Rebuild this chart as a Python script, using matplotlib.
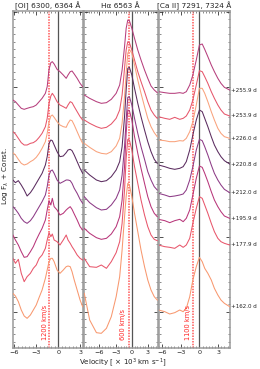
import matplotlib
matplotlib.use("Agg")
import matplotlib.pyplot as plt
from matplotlib.ticker import MultipleLocator

# ---- data ----
epochs = ["+255.9 d", "+253.9 d", "+226.0 d", "+220.8 d", "+212.0 d", "+195.9 d", "+177.9 d", "+162.0 d"]
colors = ["#b63f7d", "#e6566b", "#f9a27c", "#5b2c5f", "#8d3b86", "#b8367a", "#e8566b", "#f8986f"]

panel_titles = ["[OI] 6300, 6364 Å", "Hα 6563 Å", "[Ca II] 7291, 7324 Å"]
red_lines = [-1.2, -0.6, -1.1]
red_labels = ["1200 km/s", "600 km/s", "1100 km/s"]

v_oi = [-6.2, -5.85, -5.45, -5.05, -4.65, -4.25, -3.8, -3.4, -3.0, -2.6, -2.2, -1.75, -1.5, -1.25,
        -1.0, -0.8, -0.55, -0.15, 0.25, 0.7, 1.1, 1.35, 1.65, 1.9, 2.2, 2.6, 3.0, 3.35]
f_oi = [
    [7.44, 7.39, 7.29, 7.19, 7.16, 7.19, 7.22, 7.24, 7.29, 7.39, 7.49, 7.64, 7.84, 8.36, 8.56, 8.59, 8.52, 8.36, 8.29, 8.19, 8.09, 8.19, 8.29, 8.31, 8.22, 8.09, 7.94, 7.84],
    [6.49, 6.42, 6.29, 6.16, 6.09, 6.09, 6.14, 6.16, 6.22, 6.32, 6.44, 6.64, 6.89, 7.34, 7.56, 7.64, 7.56, 7.39, 7.29, 7.24, 7.19, 7.29, 7.39, 7.36, 7.24, 7.09, 6.94, 6.84],
    [5.86, 5.79, 5.66, 5.54, 5.49, 5.52, 5.59, 5.64, 5.72, 5.84, 5.99, 6.19, 6.44, 6.79, 6.96, 6.99, 6.92, 6.79, 6.69, 6.64, 6.62, 6.74, 6.84, 6.82, 6.69, 6.49, 6.29, 6.14],
    [5.04, 4.96, 5.02, 4.89, 4.74, 4.56, 4.66, 4.79, 4.94, 5.09, 5.24, 5.49, 5.74, 6.14, 6.24, 6.22, 6.09, 5.89, 5.74, 5.76, 5.86, 5.94, 5.96, 5.92, 5.79, 5.59, 5.39, 5.24],
    [4.24, 4.16, 4.04, 3.89, 3.79, 3.74, 3.82, 3.94, 4.09, 4.24, 4.39, 4.59, 4.84, 5.19, 5.32, 5.34, 5.24, 5.04, 4.94, 4.99, 5.04, 5.04, 5.02, 4.94, 4.79, 4.64, 4.46, 4.34],
    [3.39, 3.24, 3.09, 2.89, 2.72, 2.74, 2.89, 3.04, 3.24, 3.42, 3.59, 3.84, 4.14, 4.42, 4.29, 4.49, 4.24, 4.14, 3.99, 4.04, 4.14, 4.19, 4.24, 4.16, 4.02, 3.84, 3.64, 3.54],
    [2.69, 2.54, 2.66, 2.24, 1.99, 2.14, 2.24, 2.39, 2.49, 2.69, 2.79, 2.99, 3.24, 3.46, 3.34, 3.42, 3.24, 3.19, 3.09, 3.24, 3.39, 3.24, 3.14, 3.04, 2.94, 2.79, 2.69, 2.64],
    [1.64, 1.56, 1.39, 1.14, 0.96, 0.89, 0.99, 1.14, 1.29, 1.52, 1.74, 2.09, 2.34, 2.59, 2.69, 2.69, 2.59, 2.34, 2.24, 2.34, 2.44, 2.46, 2.44, 2.29, 2.04, 1.74, 1.44, 1.24],
]

v_ha = [-8.8, -7.8, -6.55, -5.65, -4.7, -3.8, -2.9, -2.25, -1.8, -1.35, -1.05, -0.75, -0.45,
        0.0, 0.5, 1.1, 1.7, 2.35, 2.95, 3.55, 4.15, 4.7]
f_ha = [
    [7.59, 7.49, 7.39, 7.34, 7.36, 7.46, 7.64, 7.89, 8.34, 9.04, 9.59, 9.84, 9.82, 9.59, 9.29, 8.94, 8.64, 8.34, 8.09, 7.86, 7.74, 7.66],
    [6.84, 6.74, 6.64, 6.59, 6.62, 6.72, 6.89, 7.14, 7.59, 8.39, 8.94, 9.19, 9.16, 8.94, 8.64, 8.29, 7.99, 7.69, 7.39, 7.14, 6.99, 6.89],
    [6.14, 6.02, 5.89, 5.84, 5.82, 5.89, 6.06, 6.29, 6.74, 7.54, 8.24, 8.84, 8.96, 8.84, 8.49, 8.04, 7.64, 7.24, 6.89, 6.64, 6.46, 6.34],
    [5.34, 5.19, 5.04, 4.99, 5.02, 5.14, 5.34, 5.59, 6.04, 6.94, 7.74, 8.39, 8.42, 8.19, 7.79, 7.34, 6.94, 6.54, 6.19, 5.89, 5.66, 5.54],
    [4.54, 4.36, 4.21, 4.14, 4.16, 4.29, 4.49, 4.74, 5.19, 6.04, 6.84, 7.52, 7.54, 7.29, 6.89, 6.44, 6.04, 5.66, 5.29, 5.04, 4.84, 4.74],
    [3.59, 3.44, 3.31, 3.26, 3.29, 3.42, 3.64, 3.94, 4.44, 5.44, 6.44, 7.14, 7.12, 6.84, 6.34, 5.84, 5.39, 4.94, 4.54, 4.24, 4.04, 3.94],
    [2.69, 2.44, 2.42, 2.49, 2.39, 2.59, 2.86, 3.19, 3.74, 4.74, 5.69, 6.26, 6.24, 5.94, 5.44, 4.94, 4.44, 3.99, 3.64, 3.39, 3.26, 3.22],
    [1.64, 0.84, 0.46, 0.44, 0.59, 0.94, 1.54, 2.14, 2.94, 3.94, 4.54, 4.94, 4.89, 4.54, 4.04, 3.49, 2.94, 2.44, 2.04, 1.74, 1.54, 1.44],
]

v_ca = [-6.55, -5.55, -4.75, -3.95, -3.15, -2.6, -2.1, -1.55, -1.05, -0.5, 0.0, 0.45, 0.85,
        1.35, 1.9, 2.4, 2.95, 3.45, 4.0, 4.85]
f_ca = [
    [7.69, 7.66, 7.64, 7.64, 7.66, 7.64, 7.69, 7.89, 8.19, 8.64, 9.09, 9.12, 8.96, 8.74, 8.49, 8.29, 8.09, 7.94, 7.82, 7.74],
    [6.94, 6.89, 6.86, 6.92, 6.86, 6.89, 6.96, 7.14, 7.44, 7.89, 8.32, 8.29, 8.14, 7.94, 7.69, 7.49, 7.29, 7.14, 7.02, 6.96],
    [6.24, 6.22, 6.19, 6.19, 6.22, 6.21, 6.29, 6.49, 6.79, 7.29, 7.79, 7.79, 7.64, 7.39, 7.09, 6.84, 6.59, 6.44, 6.34, 6.29],
    [5.49, 5.44, 5.39, 5.36, 5.39, 5.44, 5.59, 5.94, 6.39, 6.84, 7.14, 7.09, 6.89, 6.64, 6.34, 6.09, 5.89, 5.74, 5.62, 5.52],
    [4.64, 4.59, 4.54, 4.56, 4.59, 4.62, 4.74, 5.04, 5.44, 5.94, 6.26, 6.22, 6.04, 5.79, 5.49, 5.24, 5.04, 4.89, 4.76, 4.66],
    [3.86, 3.82, 3.76, 3.82, 3.86, 3.79, 3.89, 4.14, 4.59, 5.09, 5.46, 5.42, 5.24, 4.99, 4.69, 4.44, 4.24, 4.09, 3.96, 3.89],
    [3.09, 3.04, 3.02, 2.99, 3.09, 3.02, 3.09, 3.29, 3.74, 4.19, 4.54, 4.49, 4.29, 4.04, 3.74, 3.49, 3.29, 3.19, 3.14, 3.09],
    [1.14, 1.09, 1.02, 1.06, 1.14, 1.09, 1.19, 1.54, 2.04, 2.44, 2.72, 2.59, 2.39, 2.24, 2.04, 1.79, 1.59, 1.44, 1.34, 1.24],
]

xlims = [(-6.25, 3.4), (-8.85, 4.75), (-6.55, 4.85)]
x_ticks = [-6, -3, 0, 3]
ylim = (0.0, 10.11)

# ---- figure ----
W, H = 260, 369
fig = plt.figure(figsize=(W / 100, H / 100), dpi=100)
boxes = [(12.5, 83.0), (84.0, 157.5), (158.5, 229.7)]
top_px, bot_px = 11, 348

axes = []
for i, (x0, x1) in enumerate(boxes):
    ax = fig.add_axes([x0 / W, (H - bot_px) / H, (x1 - x0) / W, (bot_px - top_px) / H])
    axes.append(ax)

spine_col = "#9a9a9a"
for i, ax in enumerate(axes):
    vv = [v_oi, v_ha, v_ca][i]
    ff = [f_oi, f_ha, f_ca][i]
    for k in range(len(epochs)):
        ax.plot(vv, ff[k], color=colors[k], lw=0.75, zorder=3)
    ax.axvline(0, color="#555555", lw=0.9, zorder=2)
    ax.axvline(red_lines[i], color="#ff3b3b", lw=1.1, ls=(0, (1, 0.8)), alpha=0.85, zorder=2)
    ax.set_xlim(*xlims[i])
    ax.set_ylim(*ylim)
    ax.set_xticks(x_ticks)
    ax.xaxis.set_minor_locator(MultipleLocator(0.5))
    ax.yaxis.set_major_locator(MultipleLocator(2.25, offset=1.09))
    ax.yaxis.set_minor_locator(MultipleLocator(0.225, offset=0.19))
    ax.tick_params(which="both", direction="in", top=True, right=True, labelleft=False,
                   colors="#333333", labelcolor="#222222", labelsize=4.6, pad=1.5)
    ax.tick_params(which="major", length=3, width=0.6)
    ax.tick_params(which="minor", length=1.5, width=0.4)
    for s in ax.spines.values():
        s.set_color(spine_col)
        s.set_linewidth(1.1)
    ax.set_title(panel_titles[i], fontsize=5.3, pad=2, color="#222222")
    ax.text(red_lines[i] - 0.2 * (1 if i != 1 else 2.5), 0.25, red_labels[i], rotation=90,
            color="#ff2020", fontsize=4.8, ha="right", va="bottom")

# epoch labels at the right of the [Ca II] panel
ax3 = axes[2]
for k, lab in enumerate(epochs):
    ax3.text(1.02, f_ca[k][-1], lab, transform=ax3.get_yaxis_transform(),
             fontsize=4.0, va="center", ha="left", color="#222222")

fig.text(6 / W, 1 - 176 / H, "Log F$_\\lambda$ + Const.", fontsize=5.2, rotation=90,
         ha="center", va="center", color="#222222")
fig.text(123 / W, 1 - 363 / H, "Velocity [ × 10$^3$ km s$^{-1}$]", fontsize=5.1,
         ha="center", va="center", color="#222222")

fig.savefig("out.png", dpi=100)
